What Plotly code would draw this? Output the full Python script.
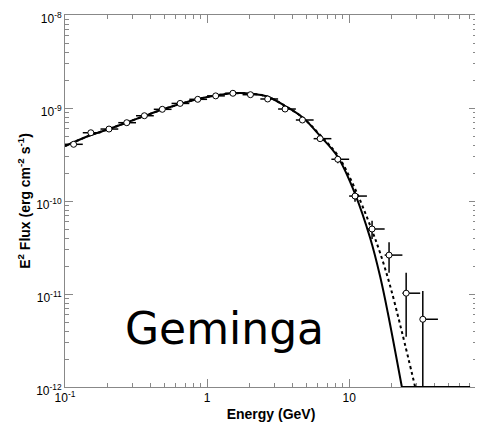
import plotly.graph_objects as go

# ---- data ----
energy = [0.115, 0.152, 0.204, 0.272, 0.362, 0.484, 0.646, 0.86, 1.15, 1.52, 2.02,
          2.67, 3.54, 4.69, 6.25, 8.32, 11.0, 14.5, 19.1, 25.2, 33.0]
flux = [4.07e-10, 5.42e-10, 5.94e-10, 6.95e-10, 8.26e-10, 9.68e-10, 1.12e-9, 1.24e-9,
        1.35e-9, 1.44e-9, 1.39e-9, 1.25e-9, 9.75e-10, 7.43e-10, 4.68e-10, 2.81e-10,
        1.13e-10, 5.0e-11, 2.62e-11, 1.02e-11, 5.35e-12]
flux_up = [4.2e-10, 5.6e-10, 6.1e-10, 7.1e-10, 8.4e-10, 9.85e-10, 1.14e-9, 1.26e-9,
           1.37e-9, 1.46e-9, 1.41e-9, 1.27e-9, 9.95e-10, 7.65e-10, 4.9e-10, 3.07e-10,
           1.29e-10, 6.14e-11, 3.60e-11, 1.69e-11, 1.08e-11]
flux_dn = [3.94e-10, 5.25e-10, 5.78e-10, 6.8e-10, 8.1e-10, 9.5e-10, 1.10e-9, 1.22e-9,
           1.33e-9, 1.42e-9, 1.37e-9, 1.23e-9, 9.55e-10, 7.2e-10, 4.45e-10, 2.54e-10,
           9.8e-11, 3.90e-11, 1.69e-11, 3.47e-12, 1e-13]
bin_lo = [0.1, 0.1334, 0.1778, 0.2371, 0.3162, 0.4217, 0.5623, 0.7499, 1.0, 1.334, 1.778,
          2.371, 3.162, 4.217, 5.623, 7.499, 10.0, 13.34, 17.78, 23.71, 31.62]
bin_hi = [0.1334, 0.1778, 0.2371, 0.3162, 0.4217, 0.5623, 0.7499, 1.0, 1.334, 1.778, 2.371,
          3.162, 4.217, 5.623, 7.499, 10.0, 13.34, 17.78, 23.71, 31.62, 42.17]

# solid model curve (exponential cutoff)
solid_e = [0.1, 0.1524, 0.2041, 0.272, 0.3618, 0.4844, 0.6454, 0.8601, 1.144, 1.524, 2.018,
           2.676, 3.542, 4.69, 6.249, 8.325, 11.02, 14.06, 16.53, 18.67, 23.5]
solid_f = [3.90e-10, 5.12e-10, 5.94e-10, 6.98e-10, 8.20e-10, 9.63e-10, 1.104e-9, 1.249e-9,
           1.362e-9, 1.440e-9, 1.430e-9, 1.320e-9, 1.051e-9, 7.94e-10, 5.00e-10, 2.97e-10,
           1.189e-10, 4.00e-11, 1.54e-11, 6.40e-12, 1.0e-12]
# dotted model curve
dotted_e = [0.1, 0.1524, 0.2041, 0.272, 0.3618, 0.4844, 0.6454, 0.8601, 1.144, 1.524, 2.018,
            2.676, 3.542, 4.69, 6.249, 8.325, 11.02, 14.45, 16.53, 19.44, 23.62, 29.16]
dotted_f = [3.90e-10, 5.12e-10, 5.94e-10, 6.98e-10, 8.20e-10, 9.63e-10, 1.104e-9, 1.249e-9,
            1.362e-9, 1.440e-9, 1.430e-9, 1.320e-9, 1.051e-9, 7.94e-10, 5.12e-10, 3.08e-10,
            1.346e-10, 4.88e-11, 2.76e-11, 1.22e-11, 3.81e-12, 1.0e-12]
# clamped floor of the curves
floor_e = [23.5, 71.0]
floor_f = [1.0e-12, 1.0e-12]

x_ticks = [0.1, 1, 10]
x_ticktext = ["10<sup>-1</sup>", "1", "10"]
x_minor = [0.2, 0.3, 0.4, 0.5, 0.6, 0.7, 0.8, 0.9, 2, 3, 4, 5, 6, 7, 8, 9, 20, 30, 40, 50, 60, 70]
y_ticks = [1e-12, 1e-11, 1e-10, 1e-9, 1e-8]
y_ticktext = ["10<sup>-12</sup>", "10<sup>-11</sup>", "10<sup>-10</sup>", "10<sup>-9</sup>", "10<sup>-8</sup>"]
y_minor = [m * 10.0 ** p for p in (-12, -11, -10, -9) for m in range(2, 10)]

err_plus_x = [h - e for h, e in zip(bin_hi, energy)]
err_minus_x = [e - l for e, l in zip(energy, bin_lo)]
err_plus_y = [u - f for u, f in zip(flux_up, flux)]
err_minus_y = [f - d for f, d in zip(flux, flux_dn)]

fig = go.Figure()
fig.add_trace(go.Scatter(x=solid_e, y=solid_f, mode="lines",
                         line=dict(color="black", width=2, shape="spline"), showlegend=False))
fig.add_trace(go.Scatter(x=dotted_e, y=dotted_f, mode="lines",
                         line=dict(color="black", width=2, dash="dot", shape="spline"), showlegend=False))
fig.add_trace(go.Scatter(x=floor_e, y=floor_f, mode="lines",
                         line=dict(color="black", width=2), showlegend=False))
fig.add_trace(go.Scatter(
    x=energy, y=flux, mode="markers",
    marker=dict(symbol="circle", size=6, color="white", line=dict(color="black", width=1)),
    error_x=dict(type="data", symmetric=False, array=err_plus_x, arrayminus=err_minus_x,
                 color="black", thickness=1.5, width=0),
    error_y=dict(type="data", symmetric=False, array=err_plus_y, arrayminus=err_minus_y,
                 color="black", thickness=1.5, width=0),
    showlegend=False))

axis_common = dict(
    type="log", showgrid=False, zeroline=False, showline=True, linecolor="#888888", linewidth=1,
    mirror="allticks", ticks="inside", ticklen=8, tickcolor="#888888", tickwidth=1,
    tickfont=dict(family="Liberation Sans, Arial", size=12, color="black"),
    layer="below traces", automargin=False, ticklabeloverflow="allow",
)
fig.update_xaxes(**axis_common, range=[-1, 1.9], tickmode="array", tickvals=x_ticks,
                 ticktext=x_ticktext,
                 minor=dict(tickmode="array", tickvals=x_minor, ticks="inside", ticklen=4,
                            tickcolor="#888888", showgrid=False),
                 title=dict(text="<b>Energy (GeV)</b>", standoff=4,
                            font=dict(family="Liberation Sans, Arial", size=14, color="black")))
fig.update_yaxes(**axis_common, range=[-12, -8], tickmode="array", tickvals=y_ticks,
                 ticktext=y_ticktext, ticklabelshift=4,
                 minor=dict(tickmode="array", tickvals=y_minor, ticks="inside", ticklen=4,
                            tickcolor="#888888", showgrid=False),
                 title=dict(text="<b>E<sup>2</sup> Flux (erg cm<sup>-2</sup> s<sup>-1</sup>)</b>",
                            standoff=2,
                            font=dict(family="Liberation Sans, Arial", size=14, color="black")))

fig.add_annotation(text="Geminga", xref="paper", yref="paper", x=0.388, y=0.156,
                   xanchor="center", yanchor="middle", showarrow=False,
                   font=dict(family="DejaVu Sans", size=44, color="black"))

# page body adds an 8px offset; margins compensate so the plot area lands at 65..477 x 15..387
fig.update_layout(width=475, height=420, margin=dict(l=57, r=6, t=7, b=41),
                  plot_bgcolor="white", paper_bgcolor="white")

fig.write_html("out.html")
